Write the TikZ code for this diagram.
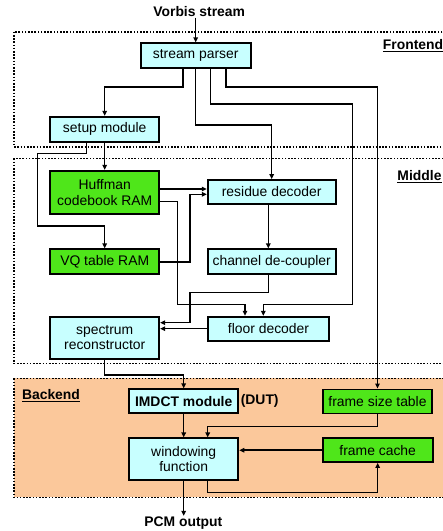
\documentclass[tikz,border=0pt]{standalone}
\usepackage{fontspec}
\setmainfont{Liberation Sans}
\usetikzlibrary{arrows.meta}
\definecolor{cyanbox}{HTML}{C8FFFF}
\definecolor{greenbox}{HTML}{4FE61A}
\definecolor{orangebg}{HTML}{FBC89B}
\begin{document}
\begin{tikzpicture}[x=1pt,y=-1pt,
  every node/.style={font=\fontsize{13.9}{15.5}\selectfont},
  blk/.style={draw=black, line width=1.8pt, inner sep=0pt, align=center, rectangle},
  cy/.style={blk, fill=cyanbox},
  gr/.style={blk, fill=greenbox},
  arr/.style={line width=1.5pt, -{Triangle[length=5pt,width=4.5pt]}},
  ln/.style={line width=1.5pt},
  region/.style={line width=1.6pt, dash pattern=on 1.6pt off 1.6pt},
  lbl/.style={font=\fontsize{13.9}{15.5}\selectfont\bfseries, inner sep=1pt}]
\useasboundingbox (0,0) rectangle (443,531);
\clip (0,0) rectangle (443,531);
% regions
\draw[region] (14,31.7) rectangle (470,146.7);
\draw[region] (14,158.3) rectangle (470,363.3);
\draw[region, fill=orangebg] (14,378.3) rectangle (470,497.3);
\node[lbl] (lfront) at (413,46) {\underline{Frontend}};
\node[lbl] (lmid) at (419.5,177) {\underline{Middle}};
\node[lbl] (lback) at (51,396) {\underline{Backend}};
% nodes
\node[lbl] (vs) at (199.2,11.3) {Vorbis stream};
\node[cy, minimum width=110pt, minimum height=25pt] (sp) at (195.7,55.8) {stream parser};
\node[cy, minimum width=109pt, minimum height=25pt] (setup) at (104.7,129.2) {setup module};
\node[gr, minimum width=109pt, minimum height=43pt] (huff) at (104.7,192.3) {Huffman\\codebook RAM};
\node[gr, minimum width=109pt, minimum height=25pt] (vq) at (104.7,261.8) {VQ table RAM};
\node[cy, minimum width=128pt, minimum height=24pt] (res) at (271.7,192) {residue decoder};
\node[cy, minimum width=128pt, minimum height=24.7pt] (chan) at (271.7,261.7) {channel de-coupler};
\node[cy, minimum width=121.7pt, minimum height=24pt] (floor) at (268.5,328.7) {floor decoder};
\node[cy, minimum width=109pt, minimum height=42.3pt] (spec) at (104.7,337.8) {spectrum\\reconstructor};
\node[cy, minimum width=109.3pt, minimum height=24pt, font=\fontsize{13.9}{15.5}\selectfont\bfseries] (imdct) at (183.7,401.3) {IMDCT module};
\node[lbl, anchor=west, inner sep=0pt] (dut) at (240.6,400.7) {(DUT)};
\node[gr, minimum width=109.6pt, minimum height=24pt] (fst) at (377.5,401.4) {frame size table};
\node[cy, minimum width=109.3pt, minimum height=41.7pt] (win) at (183.7,459.2) {windowing\\function};
\node[gr, minimum width=110pt, minimum height=23.7pt] (fc) at (377.7,450.2) {frame cache};
\node[lbl] (pcm) at (183.3,523.3) {PCM output};
% connectors
\draw[arr] (sp.north |- vs.south) -- (sp.north);
\draw[arr] ([xshift=-12.7pt]sp.south) -- ++(0,17.7) -| (setup.north);
\draw[arr] (sp.south) -- ++(0,55.7) -| (res.north);
\draw[arr] ([xshift=15pt]sp.south) |- (352.7,104) -- (352.7,304.3) -| ([xshift=-5.2pt]floor.north);
\draw[arr] ([xshift=30.3pt]sp.south) -- ++(0,17.7) -| (fst.north);
\draw[arr] (setup.south) -- (huff.north);
\draw[arr] ([xshift=-18pt]setup.south) -- ++(0,11) -| (37.7,226) -| (vq.north);
\draw[arr] ([yshift=3.3pt]huff.east) -- ([yshift=3pt]res.west);
\draw[arr] ([yshift=-9.4pt]huff.east) -| (177.7,304.3) -| ([xshift=-23.5pt]floor.north);
\draw[arr] (vq.east) -| (190,194.3) -- ([yshift=-2.3pt]res.west);
\draw[arr] ([xshift=-3.4pt]res.south) -- ([xshift=-3.4pt]chan.north);
\draw[arr] ([xshift=-3.4pt]chan.south) |- (190,292.7) |- ([yshift=15.1pt]spec.east);
\draw[arr] (floor.west) -- (floor.west -| spec.east);
\draw[arr] (spec.south) -- ++(0,15) -| (imdct.north);
\draw[arr] (imdct.south) -- (win.north);
\draw[arr] (fst.south) -- ++(0,12.4) -| ([xshift=24pt]win.north);
\draw[arr] (fc.west) -- (fc.west -| win.east);
\draw[arr] ([xshift=24pt]win.south) -- ++(0,11.7) -| (fc.south);
\draw[arr] (win.south) -- (win.south |- pcm.north);
\end{tikzpicture}
\end{document}
